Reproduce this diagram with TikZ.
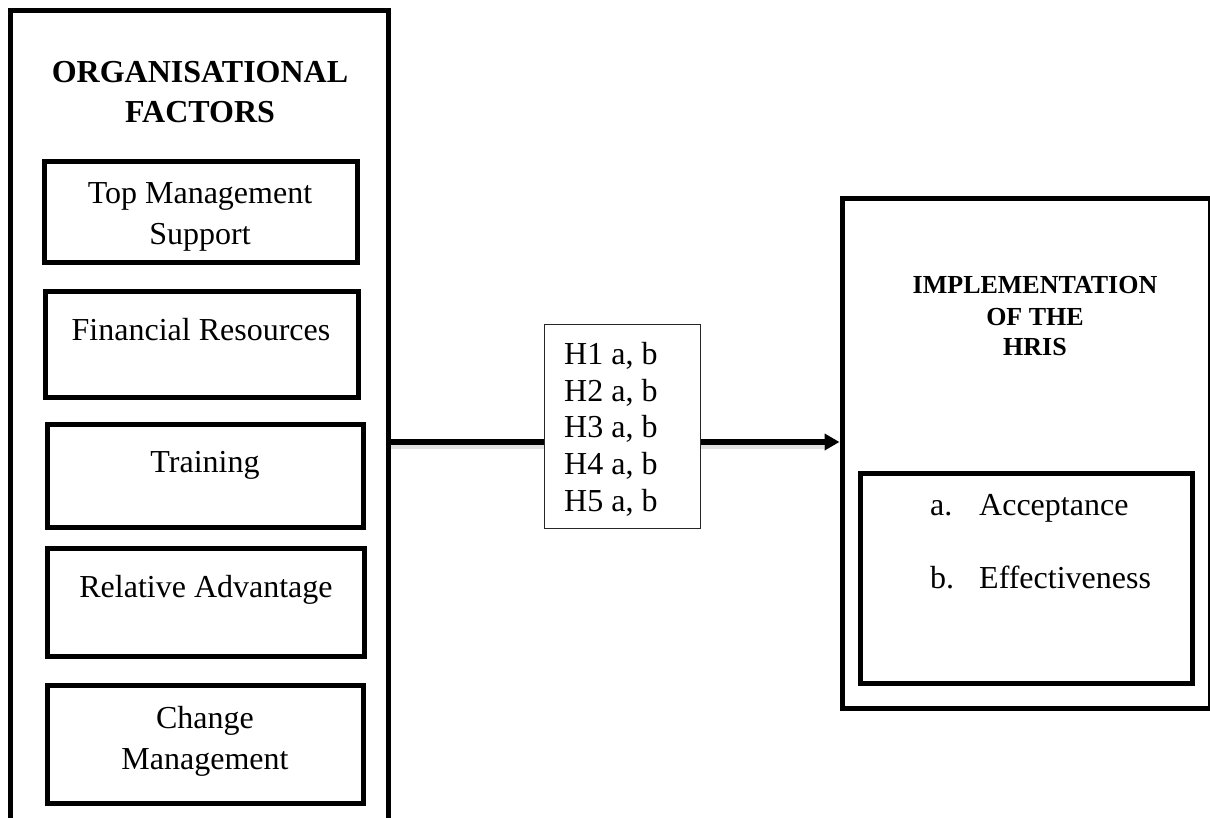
\documentclass[tikz,border=0pt]{standalone}
\usepackage{fontspec}
\setmainfont{Liberation Serif}
\usetikzlibrary{arrows.meta}
\tikzset{
  thickbox/.style={draw=black, line width=5pt, rectangle, inner sep=0pt},
  hypbox/.style={draw=black!85, line width=1pt, fill=white, rectangle, inner sep=0pt},
  bodytext/.style={font=\fontsize{32}{36.8}\selectfont, inner sep=0pt, anchor=base},
  headtext/.style={font=\bfseries\fontsize{32}{40}\selectfont, inner sep=0pt, anchor=base},
  smallhead/.style={font=\bfseries\fontsize{26}{30}\selectfont, inner sep=0pt, anchor=base},
  conn/.style={line width=5.5pt, -{Triangle[length=15pt,width=16pt]}},
  connshadow/.style={line width=5pt, draw=black!12},
}
\begin{document}
\begin{tikzpicture}[x=1pt,y=-1pt]
\useasboundingbox (0,0) rectangle (1210,818);
\clip (0,0) rectangle (1210,818);
% left outer box (open below the page edge)
\node[thickbox, minimum width=378pt, minimum height=830pt] (lob) at (199,426) {};
\node[headtext] (t1) at (200,83) {ORGANISATIONAL};
\node[headtext] (t2) at (200,123) {FACTORS};
% factor boxes
\node[thickbox, minimum width=313pt, minimum height=101pt] (tms) at (200.5,212.5) {};
\node[bodytext] (tms1) at (200,204) {Top Management};
\node[bodytext] (tms2) at (200,245) {Support};
\node[thickbox, minimum width=313pt, minimum height=105pt] (fr) at (201.5,344.5) {};
\node[bodytext] (frt) at (201,340) {Financial Resources};
\node[thickbox, minimum width=316pt, minimum height=103pt] (tr) at (205,475.5) {};
\node[bodytext] (trt) at (205,472) {Training};
\node[thickbox, minimum width=317pt, minimum height=108pt] (ra) at (205.5,602) {};
\node[bodytext] (rat) at (206,597) {Relative Advantage};
\node[thickbox, minimum width=316pt, minimum height=118pt] (cm) at (205,744) {};
\node[bodytext] (cm1) at (205,728) {Change};
\node[bodytext] (cm2) at (205,769) {Management};
% right outer box
\node[thickbox, minimum width=368pt, minimum height=509pt] (rob) at (1026,453.5) {};
\node[smallhead] (r1) at (1035,294) {IMPLEMENTATION};
\node[smallhead] (r2) at (1035,325) {OF THE};
\node[smallhead] (r3) at (1035,355) {HRIS};
\node[thickbox, minimum width=332pt, minimum height=210pt] (rib) at (1026,578) {};
\node[bodytext, anchor=base west] (ia) at (930,515) {a.};
\node[bodytext, anchor=base west] (ial) at (979,515) {Acceptance};
\node[bodytext, anchor=base west] (ib) at (930,588) {b.};
\node[bodytext, anchor=base west] (ibl) at (979,588) {Effectiveness};
% connector
\coordinate (ay) at (0,442);
\coordinate (ays) at (0,446);
\draw[connshadow] (lob.east |- ays) -- ([xshift=-16pt]rob.west |- ays);
\draw[conn] (lob.east |- ay) -- (rob.west |- ay);
% hypotheses box
\node[hypbox, minimum width=156pt, minimum height=204pt] (hb) at (622,426) {};
\node[bodytext, anchor=base west] (h1) at (564,364) {H1 a, b};
\node[bodytext, anchor=base west] (h2) at (564,401) {H2 a, b};
\node[bodytext, anchor=base west] (h3) at (564,437) {H3 a, b};
\node[bodytext, anchor=base west] (h4) at (564,474) {H4 a, b};
\node[bodytext, anchor=base west] (h5) at (564,511) {H5 a, b};
\end{tikzpicture}
\end{document}
